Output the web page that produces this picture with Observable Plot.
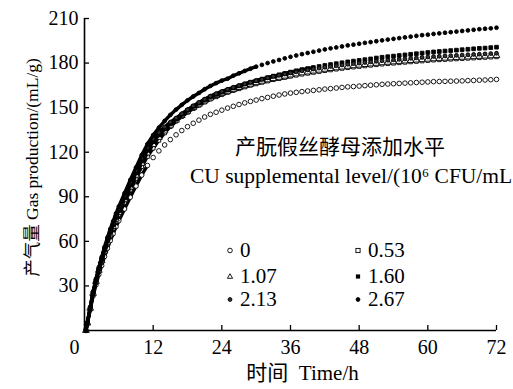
<!DOCTYPE html>
<html><head><meta charset="utf-8">
<script src="https://cdn.jsdelivr.net/npm/d3@7"></script>
<script src="https://cdn.jsdelivr.net/npm/@observablehq/plot@0.6"></script>
<style>
body{margin:0;background:#fff;}
#wrap{position:relative;width:513px;height:389px;font-family:"Liberation Serif","Noto Sans CJK SC",serif;color:#000;overflow:hidden;}
#wrap svg{position:absolute;left:0;top:0;}
.ov{position:absolute;white-space:nowrap;line-height:1;}
</style></head><body><div id="wrap"></div>
<script>
// Time (h)
const times = [0.25,0.5,1,1.5,2,2.5,3,3.5,4,4.5,5,5.5,6,7,8,9,10,11,12,13,14,15,16,17,18,19,20,21,22,23,24,25,26,27,28,29,30,31,32,33,34,35,36,37,38,39,40,41,42,43,44,45,46,47,48,49,50,51,52,53,54,55,56,57,58,59,60,61,62,63,64,65,66,67,68,69,70,71,72];

// Gas production (mL/g) per CU supplemental level (10^6 CFU/mL)
const level0 = [0,4.7,14,23.3,30.7,37.7,43.7,49.8,55.3,60.5,65.1,69.8,73.9,81.8,89.7,97.2,104.6,111.1,116.4,120.9,124.9,128.5,131.7,134.6,137.2,139.5,141.6,143.7,145.5,146.9,148.3,149.7,150.9,152.1,153.2,154.2,155.1,156.1,156.9,157.7,158.5,159.2,159.8,160.3,160.8,161.2,161.6,162,162.5,162.8,163.2,163.6,164,164.2,164.5,164.8,165.1,165.4,165.7,165.9,166.1,166.3,166.5,166.7,166.9,167.1,167.3,167.5,167.6,167.7,167.8,167.9,168,168.2,168.3,168.5,168.6,168.8,169];
const level053 = [0,4.9,14.7,24.5,32.3,39.7,46.1,52.4,58.3,63.7,68.6,73.5,77.9,86.2,94.6,102.4,110.3,117.1,122.7,128,133,137.2,140.9,144,146.8,149.3,151.5,153.7,155.7,157.3,158.8,160.2,161.5,162.7,163.9,165,166,167,167.9,168.8,169.5,170.3,171.1,171.8,172.5,173.1,173.7,174.3,174.9,175.4,175.9,176.4,176.9,177.3,177.7,178.1,178.5,178.9,179.3,179.6,179.9,180.2,180.5,180.8,181.1,181.4,181.7,182,182.2,182.4,182.6,182.8,183,183.2,183.4,183.6,183.8,184,184.2];
const level107 = [0,5,15,25,33,40.5,47,53.5,59.5,65,70,75,79.5,88,96.5,104.5,112.5,119.5,125.2,130,134.3,138.2,141.6,144.7,147.5,150,152.3,154.5,156.5,158.1,159.6,161,162.3,163.5,164.7,165.8,166.8,167.8,168.7,169.6,170.4,171.2,172,172.7,173.4,174,174.6,175.2,175.8,176.3,176.8,177.3,177.8,178.2,178.6,179,179.4,179.8,180.2,180.5,180.8,181.1,181.4,181.7,182,182.3,182.6,182.9,183.1,183.3,183.5,183.7,183.9,184.1,184.3,184.5,184.7,184.9,185.1];
const level160 = [0,5.1,15.2,25.4,33.5,41.1,47.7,54.3,60.4,66,71.1,76.1,80.7,89.3,97.9,106.1,114.2,121.3,127.1,131.6,135.6,139.3,142.3,145.4,148.2,150.8,153.1,155.3,157.3,158.9,160.4,161.9,163.3,164.6,165.9,167.1,168.1,169.2,170.2,171.2,172.1,173,173.9,174.8,175.6,176.3,177,177.7,178.4,179,179.6,180.2,180.8,181.3,181.8,182.3,182.8,183.4,183.9,184.3,184.7,185.1,185.5,185.9,186.3,186.7,187.1,187.5,187.8,188.1,188.4,188.7,189,189.3,189.6,189.9,190.1,190.4,190.7];
const level213 = [0,5.2,15.5,25.8,34,41.7,48.4,55.1,61.3,67,72.1,77.3,81.9,90.6,99.4,107.6,115.9,123.1,129,133.3,137,140.3,143,145.9,148.7,151.2,153.5,155.7,157.8,159.4,160.9,162.3,163.6,164.8,166,167.1,168.1,169.1,170,171,171.8,172.6,173.4,174.1,174.8,175.4,176,176.6,177.2,177.7,178.2,178.7,179.2,179.6,180,180.4,180.8,181.2,181.6,181.9,182.2,182.5,182.8,183.2,183.5,183.8,184.1,184.4,184.6,184.8,185,185.2,185.4,185.6,185.8,186,186.2,186.4,186.6];
const level267 = [0,5.3,15.8,26.3,34.7,42.5,49.4,56.2,62.5,68.3,73.5,78.8,83.5,92.4,101.3,109.7,118.1,125.5,131.5,136.5,141,145.1,148.7,151.9,154.9,157.5,159.9,162.4,164.6,166.5,168.2,169.5,171.5,173.1,174.7,176.2,177.6,178.8,180,181.1,182.1,183.2,184.2,185.1,186,186.8,187.6,188.4,189.2,189.9,190.5,191.2,191.9,192.4,193,193.6,194.1,194.7,195.3,195.8,196.3,196.8,197.3,197.8,198.3,198.8,199.1,199.6,200,200.4,200.8,201.2,201.6,202,202.4,202.8,203.1,203.4,203.8];

const seriesNames = ["0","0.53","1.07","1.60","2.13","2.67"];
const seriesValues = [level0, level053, level107, level160, level213, level267];

const xTicks = [0,12,24,36,48,60,72];
const yTicks = [30,60,90,120,150,180,210];

const legendTitle = "产朊假丝酵母添加水平";
const legendSubtitle = "CU supplemental level/(10⁶ CFU/mL";
const xLabel = "时间  Time/h";
const yLabel = "产气量 Gas production/(mL/g)";

// styles
const symbols = ["circle","square","triangle","square","circle","circle"];
const fills = ["white","white","white","#000","#333","#000"];
const radii = [2.3,2.1,2.5,2.1,1.9,1.9];
const solidUntil = [11,36,36,40,36,30]; // where the dense markers merge into a solid band

const W = 513, H = 389, mL = 84, mR = 17, mT = 18, mB = 59;

const marks = [];
seriesNames.forEach((name, i) => {
  const rows = times.map((t, j) => ({t, v: seriesValues[i][j]}));
  marks.push(Plot.line(rows.filter(d => d.t <= solidUntil[i]), {x: "t", y: "v", stroke: "#000", strokeWidth: 3.4}));
  marks.push(Plot.dot(rows, {x: "t", y: "v", symbol: symbols[i], r: radii[i], fill: fills[i], stroke: "#000", strokeWidth: 0.9}));
});

const chart = Plot.plot({
  width: W, height: H,
  marginLeft: mL, marginRight: mR, marginTop: mT, marginBottom: mB,
  style: {fontFamily: '"Liberation Serif", "Noto Sans CJK SC", serif', fontSize: "20px", color: "#000", background: "transparent"},
  x: {domain: [0, 72]},
  y: {domain: [0, 210]},
  marks: [
    Plot.axisY({ticks: yTicks, tickSize: 0, tickPadding: 6, label: null, fontSize: 20}),
    Plot.axisX({ticks: xTicks.filter(d => d > 0), tickSize: 0, tickPadding: 9, label: null, fontSize: 20}),
    Plot.axisX({ticks: xTicks.filter(d => d === 0), tickSize: 0, tickPadding: 9, dx: -10, label: null, fontSize: 20}),
    // inward tick marks
    Plot.tickX(xTicks.filter(d => d > 0), {x: d => d, stroke: "#000", strokeWidth: 1.3, insetTop: H - mT - mB - 5}),
    Plot.tickY(yTicks, {y: d => d, stroke: "#000", strokeWidth: 1.3, insetRight: W - mL - mR - 5}),
    ...marks,
    Plot.ruleX([0], {stroke: "#000", strokeWidth: 1.6}),
    Plot.ruleY([0], {stroke: "#000", strokeWidth: 1.6}),
    Plot.text([yLabel], {frameAnchor: "left", textAnchor: "middle", lineAnchor: "middle", rotate: -90, dx: -52, dy: -7, fontSize: 17.5, fill: "#000"}),
    Plot.text([xLabel], {frameAnchor: "bottom", textAnchor: "middle", lineAnchor: "middle", dx: 12, dy: 43, fontSize: 21, fill: "#000"})
  ]
});
const wrap = document.getElementById("wrap");
wrap.appendChild(chart);

function ov(text, css) {
  const d = document.createElement("div");
  d.className = "ov";
  d.textContent = text;
  Object.assign(d.style, css);
  wrap.appendChild(d);
  return d;
}
ov(legendTitle, {left: "340px", top: "147px", fontSize: "21px", transform: "translate(-50%,-50%)"});
ov(legendSubtitle, {left: "190px", top: "177px", fontSize: "21.5px", transform: "translate(0,-50%)"});

// legend entries (2 columns x 3 rows)
const symbolSvg = [
  '<circle cx="5" cy="5" r="2.3" fill="white" stroke="#000" stroke-width="0.9"/>',
  '<rect x="2.9" y="2.9" width="4.2" height="4.2" fill="white" stroke="#000" stroke-width="0.9"/>',
  '<path d="M5,2.2 L7.6,6.8 L2.4,6.8 Z" fill="white" stroke="#000" stroke-width="0.9"/>',
  '<rect x="2.9" y="2.9" width="4.2" height="4.2" fill="#000"/>',
  '<circle cx="5" cy="5" r="1.9" fill="#333" stroke="#000" stroke-width="0.9"/>',
  '<circle cx="5" cy="5" r="1.9" fill="#000" stroke="#000" stroke-width="0.9"/>'
];
const colX = [230, 358];
const rowY = [250, 276, 299];
seriesNames.forEach((name, i) => {
  const col = i % 2, row = Math.floor(i / 2);
  const item = document.createElement("div");
  item.className = "ov";
  Object.assign(item.style, {left: (colX[col] - 5) + "px", top: rowY[row] + "px", transform: "translateY(-50%)", display: "flex", alignItems: "center", fontSize: "21px"});
  item.innerHTML = `<svg width="10" height="10" style="position:static">${symbolSvg[i]}</svg><span style="margin-left:5px">${name}</span>`;
  wrap.appendChild(item);
});
</script>
</body></html>
